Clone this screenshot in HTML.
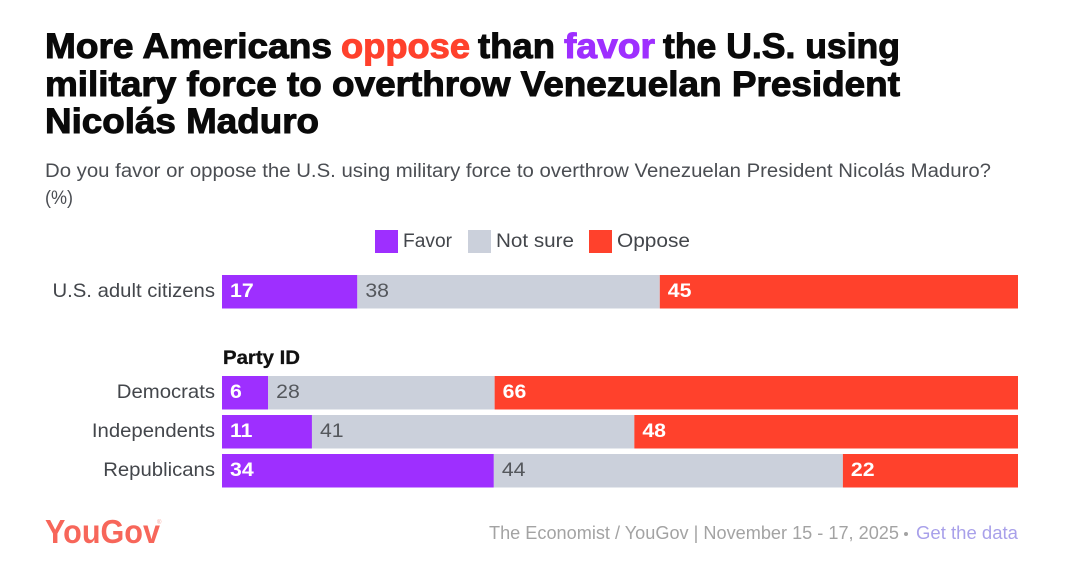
<!DOCTYPE html>
<html lang="en">
<head>
<meta charset="utf-8">
<title>YouGov chart</title>
<style>
html,body{margin:0;padding:0;background:#fff;width:1074px;height:566px;overflow:hidden}
svg{display:block;font-family:"Liberation Sans",sans-serif;filter:blur(.3px)}
.t{font-size:35px;font-weight:700;fill:#0a0a0a;stroke:#0a0a0a;stroke-width:1px}
.s{font-size:19px;fill:#4a4d52}
.l{font-size:19px;fill:#43464b}
</style>
</head>
<body>
<svg id="chart" width="1074" height="566" viewBox="0 0 1074 566" xmlns="http://www.w3.org/2000/svg">
  <rect width="1074" height="566" fill="#fff"/>
  <g>
    <text class="t" x="45" y="58" textLength="287" lengthAdjust="spacingAndGlyphs">More Americans</text>
    <text class="t" x="341" y="58" textLength="129" lengthAdjust="spacingAndGlyphs" style="fill:#ff412c;stroke:#ff412c">oppose</text>
    <text class="t" x="478" y="58" textLength="77" lengthAdjust="spacingAndGlyphs">than</text>
    <text class="t" x="564" y="58" textLength="91" lengthAdjust="spacingAndGlyphs" style="fill:#9e2fff;stroke:#9e2fff">favor</text>
    <text class="t" x="663" y="58" textLength="237" lengthAdjust="spacingAndGlyphs">the U.S. using</text>
    <text class="t" x="45" y="96" textLength="855" lengthAdjust="spacingAndGlyphs">military force to overthrow Venezuelan President</text>
    <text class="t" x="45" y="133" textLength="274" lengthAdjust="spacingAndGlyphs">Nicolás Maduro</text>
  </g>
  <g>
    <text class="s" x="45" y="177" textLength="946" lengthAdjust="spacingAndGlyphs">Do you favor or oppose the U.S. using military force to overthrow Venezuelan President Nicolás Maduro?</text>
    <text class="s" x="45" y="204" textLength="28" lengthAdjust="spacingAndGlyphs">(%)</text>
  </g>
  <g>
    <g>
      <rect x="375" y="230" width="23" height="23" fill="#9e2fff"/>
      <text class="l" x="403" y="247" textLength="49" lengthAdjust="spacingAndGlyphs">Favor</text>
    </g>
    <g>
      <rect x="468" y="230" width="23" height="23" fill="#cbd0db"/>
      <text class="l" x="496" y="247" textLength="78" lengthAdjust="spacingAndGlyphs">Not sure</text>
    </g>
    <g>
      <rect x="589" y="230" width="23" height="23" fill="#ff412c"/>
      <text class="l" x="617" y="247" textLength="73" lengthAdjust="spacingAndGlyphs">Oppose</text>
    </g>
  </g>
  <text x="223" y="364" font-size="19" font-weight="700" fill="#111" stroke="#111" stroke-width=".3" textLength="77" lengthAdjust="spacingAndGlyphs">Party ID</text>
  <g id="bars"></g>
  <text x="45" y="543" font-size="33" font-weight="700" fill="#f7665a" textLength="115" lengthAdjust="spacingAndGlyphs">YouGov</text>
  <text x="157" y="524" font-size="6" fill="#f7a59c">®</text>
  <text x="489" y="539" font-size="18" fill="#a3a3a3" textLength="410" lengthAdjust="spacingAndGlyphs">The Economist / YouGov | November 15 - 17, 2025</text>
  <circle cx="906" cy="534" r="2" fill="#a3a3a3"/>
  <text x="916" y="539" font-size="18" fill="#a8a0ea" textLength="102" lengthAdjust="spacingAndGlyphs">Get the data</text>
</svg>
<script>
const categories = ["U.S. adult citizens", "Democrats", "Independents", "Republicans"];
const favorValues = [17, 5.8, 11.3, 34.15];
const notSureValues = [38, 28.45, 40.5, 43.85];
const opposeValues = [45, 65.75, 48.2, 22];

const NS = "http://www.w3.org/2000/svg";
const barsGroup = document.getElementById("bars");

function xScale(v) { return 222 + (v / 100) * 796; }
function rowTop(i) { return i === 0 ? 275 : 376 + (i - 1) * 39; }

const seriesList = [
  { key: "favor", values: favorValues, fill: "#9e2fff", text: "#ffffff", weight: "700" },
  { key: "not-sure", values: notSureValues, fill: "#cbd0db", text: "#54575c", weight: "400" },
  { key: "oppose", values: opposeValues, fill: "#ff412c", text: "#ffffff", weight: "700" }
];

categories.forEach(function (cat, i) {
  const y = rowTop(i);
  const label = document.createElementNS(NS, "text");
  
  
  label.setAttribute("transform", "translate(215," + (y + 22) + ") scale(1.07,1)");
  label.setAttribute("text-anchor", "end");
  label.setAttribute("font-size", "19");
  label.setAttribute("fill", "#43464b");
  label.textContent = cat;
  barsGroup.appendChild(label);

  let cum = 0;
  seriesList.forEach(function (s) {
    const v = s.values[i];
    const x0 = xScale(cum);
    const x1 = xScale(cum + v);
    const rect = document.createElementNS(NS, "rect");
    
    
    rect.setAttribute("x", x0);
    rect.setAttribute("y", y);
    rect.setAttribute("width", x1 - x0);
    rect.setAttribute("height", 33.5);
    rect.setAttribute("fill", s.fill);
    barsGroup.appendChild(rect);

    const val = document.createElementNS(NS, "text");
    
    
    val.setAttribute("transform", "translate(" + (x0 + 8) + "," + (y + 22) + ") scale(1.12,1)");
    val.setAttribute("font-size", "19");
    val.setAttribute("font-weight", s.weight);
    val.setAttribute("fill", s.text);
    val.textContent = Math.round(v);
    barsGroup.appendChild(val);
    cum += v;
  });
});
</script>
</body>
</html>
